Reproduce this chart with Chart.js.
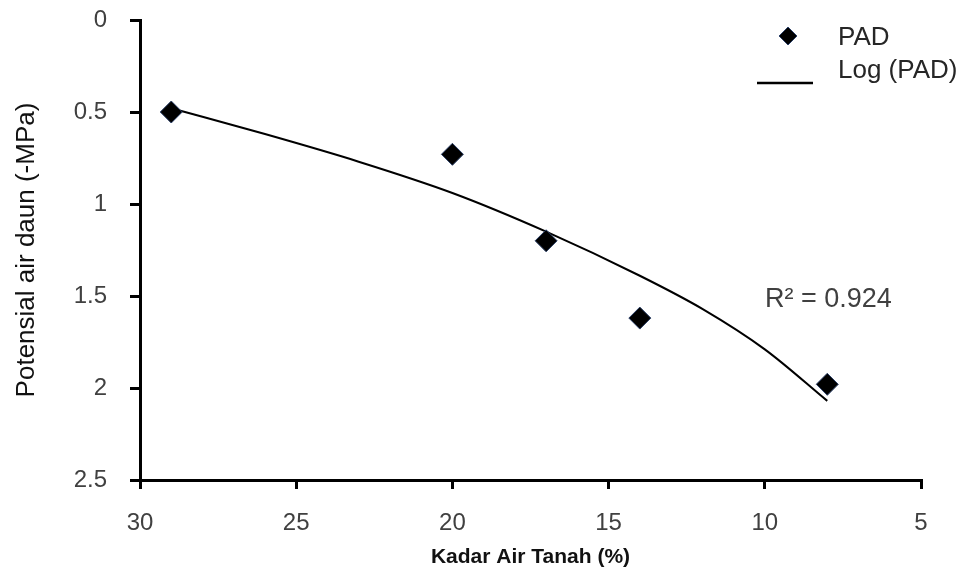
<!DOCTYPE html>
<html>
<head>
<meta charset="utf-8">
<script src="https://cdn.jsdelivr.net/npm/chart.js@4/dist/chart.umd.min.js"></script>
<style>
  html, body { margin: 0; padding: 0; background: #fff; }
  #wrap { width: 977px; height: 576px; }
</style>
</head>
<body>
<div id="wrap"><canvas id="padChart" width="977" height="576"></canvas></div>
<script>
// measured points (Kadar air tanah %, potensial air daun -MPa)
var kadarAir = [29, 20, 17, 14, 8];
var potensial = [0.5, 0.73, 1.2, 1.62, 1.98];

// log trend line
var trendX = [29, 26, 23, 20, 17, 14, 12, 10, 8];
var trendY = [0.48, 0.62, 0.77, 0.94, 1.15, 1.39, 1.57, 1.79, 2.07];

var xTicks = [30, 25, 20, 15, 10, 5];
var yTicks = [0, 0.5, 1, 1.5, 2, 2.5];
var r2Label = 'R\u00B2 = 0.924';

var tickFont = { family: "'Liberation Sans', 'DejaVu Sans', sans-serif", size: 24 };

// legend + R2 text drawn on top of the plot
var extraText = {
    id: 'extraText',
    afterDraw: function (chart) {
        var ctx = chart.ctx;
        ctx.save();
        ctx.fillStyle = '#000';
        ctx.strokeStyle = '#2b3f66';
        ctx.lineWidth = 1;
        Chart.helpers.drawPoint(ctx, { pointStyle: 'rectRot', radius: 9, borderWidth: 1 }, 788, 36);

        ctx.strokeStyle = '#000';
        ctx.lineWidth = 2.5;
        ctx.beginPath();
        ctx.moveTo(757, 83);
        ctx.lineTo(813, 83);
        ctx.stroke();

        ctx.fillStyle = '#262626';
        ctx.font = "26px 'Liberation Sans', sans-serif";
        ctx.textAlign = 'left';
        ctx.textBaseline = 'alphabetic';
        ctx.fillText('PAD', 838, 45);
        ctx.fillText('Log (PAD)', 838, 78);

        ctx.fillStyle = '#404040';
        ctx.font = "27px 'Liberation Sans', sans-serif";
        ctx.fillText(r2Label, 765, 307);
        ctx.restore();
    }
};

var ctx = document.getElementById('padChart').getContext('2d');
var padChart = new Chart(ctx, {
    type: 'scatter',
    data: {
        datasets: [{
            label: 'PAD',
            data: kadarAir.map(function (x, i) { return { x: x, y: potensial[i] }; }),
            pointStyle: 'rectRot',
            pointRadius: 11,
            pointHoverRadius: 11,
            backgroundColor: '#000',
            borderColor: '#2b3f66',
            borderWidth: 1,
            order: 0
        }, {
            label: 'Log (PAD)',
            data: trendX.map(function (x, i) { return { x: x, y: trendY[i] }; }),
            showLine: true,
            borderColor: '#000',
            borderWidth: 2,
            pointRadius: 0,
            cubicInterpolationMode: 'monotone',
            order: 1
        }]
    },
    options: {
        responsive: false,
        animation: false,
        layout: { padding: { left: 0, top: 20, right: 56, bottom: 0 } },
        plugins: {
            legend: { display: false },
            tooltip: { enabled: false }
        },
        scales: {
            x: {
                type: 'linear',
                reverse: true,
                min: 5,
                max: 30,
                afterBuildTicks: function (scale) {
                    scale.ticks = xTicks.map(function (v) { return { value: v }; });
                },
                afterFit: function (scale) {
                    scale.height = 96;
                    scale.paddingLeft = 0;
                    scale.paddingRight = 0;
                },
                grid: {
                    drawOnChartArea: false,
                    color: '#000',
                    lineWidth: 3,
                    tickLength: 9
                },
                border: { color: '#000', width: 3 },
                ticks: {
                    color: '#404040', font: tickFont, padding: 20, maxRotation: 0,
                    callback: function (v) { return String(v); }
                },
                title: {
                    display: true,
                    text: 'Kadar Air Tanah (%)',
                    color: '#111',
                    font: { family: "'Liberation Sans', sans-serif", size: 21, weight: 'bold' },
                    padding: { top: 0, bottom: 6 }
                }
            },
            y: {
                type: 'linear',
                reverse: true,
                min: 0,
                max: 2.5,
                afterBuildTicks: function (scale) {
                    scale.ticks = yTicks.map(function (v) { return { value: v }; });
                },
                afterFit: function (scale) {
                    scale.width = 140;
                    scale.paddingTop = 0;
                    scale.paddingBottom = 0;
                },
                grid: {
                    drawOnChartArea: false,
                    color: '#000',
                    lineWidth: 3,
                    tickLength: 10
                },
                border: { color: '#000', width: 3 },
                ticks: {
                    color: '#404040', font: tickFont, padding: 23,
                    callback: function (v) { return String(v); }
                },
                title: {
                    display: true,
                    text: 'Potensial air daun (-MPa)',
                    color: '#111',
                    font: { family: "'Liberation Sans', sans-serif", size: 26 },
                    padding: { top: 11, bottom: 0 }
                }
            }
        }
    },
    plugins: [extraText]
});
</script>
</body>
</html>
